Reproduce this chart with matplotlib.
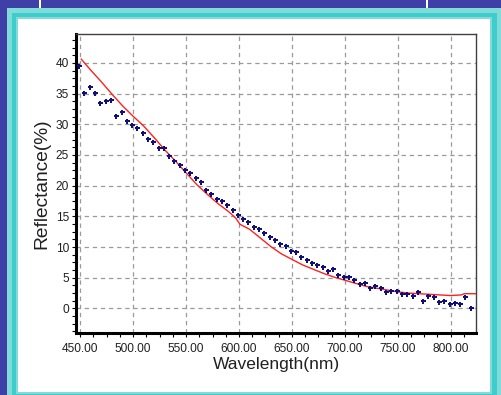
import matplotlib
matplotlib.use("Agg")
import matplotlib.pyplot as plt
from matplotlib.patches import Rectangle
from matplotlib.ticker import MultipleLocator, FormatStrFormatter

# measured reflectance (blue points)
wavelength = [449, 454, 459, 464, 469, 474, 479, 484, 489, 494,
              499, 504, 509, 514, 519, 524, 529, 534, 539, 544,
              549, 554, 559, 564, 569, 574, 579, 584, 589, 594,
              599, 604, 609, 614, 619, 624, 629, 634, 639, 644,
              649, 654, 659, 664, 669, 674, 679, 684, 689, 694,
              699, 704, 709, 714, 719, 724, 729, 734, 739, 744,
              749, 754, 759, 764, 769, 774, 779, 784, 789, 794,
              799, 804, 809, 814, 819]
measured = [39.5, 35.1, 36.0, 35.1, 33.4, 33.8, 33.9, 31.3, 32.0, 30.5,
            29.9, 29.4, 28.6, 27.6, 27.1, 26.1, 26.2, 24.8, 24.0, 23.4,
            22.6, 22.1, 21.2, 20.6, 19.3, 18.7, 17.9, 17.5, 16.8, 16.1,
            15.2, 14.5, 14.1, 13.2, 12.9, 12.3, 11.6, 11.1, 10.5, 10.1,
            9.4, 9.2, 8.4, 7.9, 7.4, 7.1, 6.7, 6.1, 6.4, 5.5,
            5.1, 5.1, 4.6, 4.0, 4.2, 3.3, 3.6, 3.4, 2.6, 2.8,
            2.9, 2.3, 2.4, 2.1, 2.7, 1.2, 2.1, 1.9, 1.0, 1.2,
            0.8, 0.85, 0.65, 1.9, 0.05]

# fitted curve (red line)
fit_wl = [451, 460, 470, 480, 490, 500, 510, 520, 530, 540,
          550, 560, 570, 580, 590, 597, 601, 610, 620, 630, 640,
          650, 660, 670, 680, 690, 700, 710, 720, 730, 740,
          750, 760, 770, 780, 790, 800, 810, 813, 824]
fit_refl = [40.6, 38.8, 36.9, 34.9, 33.0, 31.3, 29.7, 27.8, 25.8, 24.0,
            22.1, 20.2, 18.6, 17.1, 15.8, 14.7, 13.7, 12.9, 11.5, 10.1, 8.9,
            8.0, 7.1, 6.4, 5.7, 5.1, 4.6, 4.1, 3.6, 3.3, 3.0,
            2.7, 2.5, 2.4, 2.3, 2.2, 2.1, 2.2, 2.4, 2.4]

W, H = 501, 395
fig = plt.figure(figsize=(W / 100, H / 100), dpi=100)
fig.patch.set_facecolor("#3f3fa8")


def px_rect(x0, y0, x1, y1, color):
    # rectangle given in pixel coords (top-left origin)
    fig.add_artist(Rectangle((x0 / W, 1 - y1 / H), (x1 - x0) / W, (y1 - y0) / H,
                             transform=fig.transFigure, facecolor=color,
                             edgecolor="none", zorder=0))


# slide frame
px_rect(7, 8, W, H, "#7fdcd8")
px_rect(12, 13, 497, H, "#3fcccc")
px_rect(16, 17, 492, 394, "#7fdcd8")
px_rect(18, 19, 490, 392, "white")
px_rect(39, 0, 41, 8, "white")
px_rect(426, 0, 428, 8, "white")

ax = fig.add_axes([76 / W, 1 - 333 / H, 400 / W, 299 / H])
ax.set_facecolor("white")

ax.plot(fit_wl, fit_refl, color="#ff2020", lw=1.0, zorder=3)
ax.plot(wavelength, measured, ls="none", marker="P", ms=3.6, mew=0,
        color="#10107a", zorder=4)

ax.set_xlim(446, 824)
ax.set_ylim(-4, 44.7)
ax.xaxis.set_major_locator(MultipleLocator(50))
ax.xaxis.set_minor_locator(MultipleLocator(12.5))
ax.yaxis.set_major_locator(MultipleLocator(5))
ax.yaxis.set_minor_locator(MultipleLocator(1.25))
ax.xaxis.set_major_formatter(FormatStrFormatter("%.2f"))

ax.grid(True, which="major", color="#9a9a9a", ls=(0, (3.5, 3)), lw=0.9)
ax.tick_params(which="both", direction="out", length=3, width=0.8,
               colors="black", labelsize=8.6, pad=2)
ax.tick_params(axis="x", pad=4)

for side in ("left", "bottom"):
    ax.spines[side].set_linewidth(2.2)
    ax.spines[side].set_color("black")
for side in ("top", "right"):
    ax.spines[side].set_linewidth(1.0)
    ax.spines[side].set_color("#404040")

for lbl in ax.get_xticklabels() + ax.get_yticklabels():
    lbl.set_family("Liberation Sans")
    lbl.set_color("#202020")

ax.set_xlabel("Wavelength(nm)", fontsize=12.5, family="Liberation Sans",
              labelpad=2, color="#202020")
ax.set_ylabel("Reflectance(%)", fontsize=13.8, family="Liberation Sans",
              labelpad=4, color="#202020")

fig.savefig("out.png", dpi=100, facecolor=fig.get_facecolor())
